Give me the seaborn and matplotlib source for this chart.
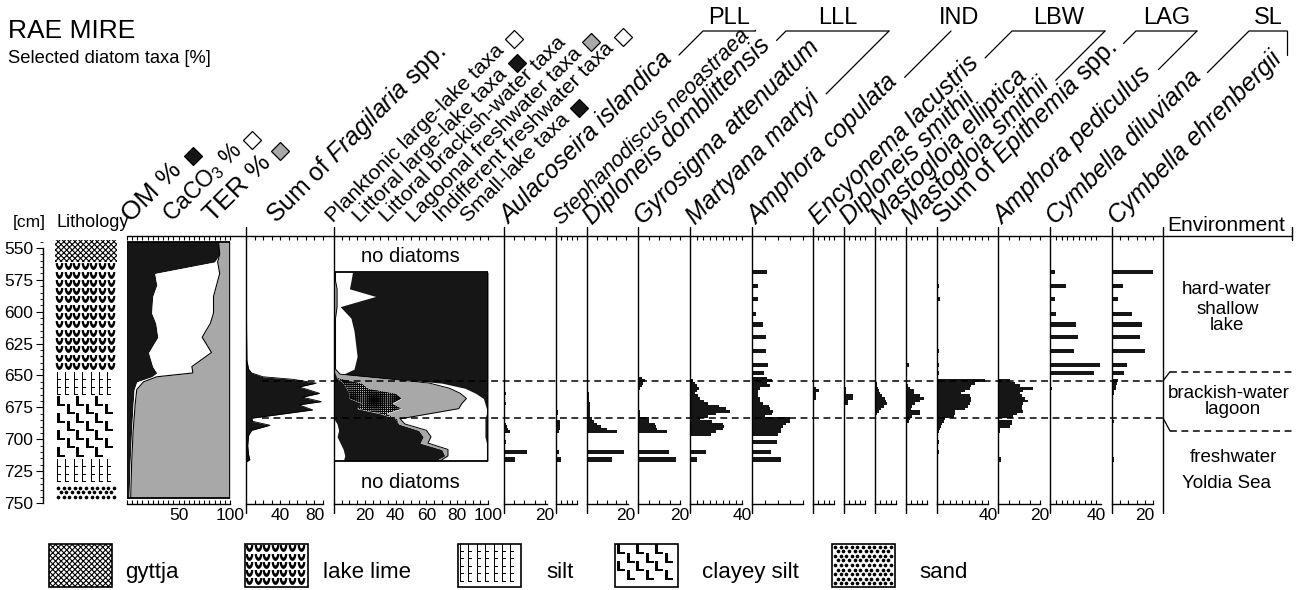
import numpy as np
import matplotlib
matplotlib.use("Agg")
import matplotlib.pyplot as plt
import seaborn as sns
from matplotlib.path import Path
from matplotlib.patches import Rectangle
from matplotlib.ticker import FixedLocator, MultipleLocator

sns.set_theme(style="white")
plt.rcParams["font.family"] = ["Liberation Sans", "DejaVu Sans"]
plt.rcParams["mathtext.fontset"] = "custom"
plt.rcParams["mathtext.rm"] = "Liberation Sans"
plt.rcParams["mathtext.it"] = "Liberation Sans:italic"
plt.rcParams["text.color"] = "black"
plt.rcParams["xtick.color"] = "black"
plt.rcParams["ytick.color"] = "black"
plt.rcParams["axes.edgecolor"] = "black"
plt.rcParams["hatch.linewidth"] = 0.8

BLACK = "#161616"
GREY = "#a8a8a8"

# ----------------------------
# lithology (cm)
# ----------------------------
litho_top = [544, 561, 648, 666, 716, 736]
litho_bottom = [561, 648, 666, 716, 736, 748]
litho_kind = ["gyttja", "lake lime", "silt", "clayey silt", "silt", "sand"]

# ----------------------------
# OM / CaCO3 / TER [%]
# ----------------------------
geo_depth = [545, 555, 561, 570, 579, 588, 601, 609, 620, 632, 643, 648, 651, 655, 661, 672, 693, 719, 746]
om_pct = [88.5, 90, 85, 27, 29, 25, 24, 28, 30, 21, 25, 29, 24, 9.5, 7, 6, 4.5, 3, 2]
caco3_pct = [0.5, 0, 3, 63, 58, 59, 60, 53, 43, 61, 38, 35, 5, 6.5, 2.5, 2, 1.5, 1.5, 1.6]
ter_pct = [100 - a - b for a, b in zip(om_pct, caco3_pct)]

# ----------------------------
# sum of Fragilaria spp. [%]
# ----------------------------
frag_depth = [545, 600, 638, 645, 648, 651, 653, 656, 659, 661, 664, 667, 670.5, 673, 677, 680,
              683.5, 686, 689, 693, 697, 705, 712, 716, 718]
frag_pct = [0, 0.5, 1, 3, 6.5, 20, 55, 82, 62, 72, 86, 66, 88, 62, 78, 45,
            6.5, 8, 28, 6.5, 3, 2, 3, 4.5, 0]

# ----------------------------
# ecological groups [%]
# ----------------------------
eco_depth = [569, 576, 582, 588, 596, 605, 615, 625, 635, 645, 649, 652, 656, 660, 664, 668, 672,
             676, 680, 684, 688, 693, 698, 703, 708, 713, 717]
planktonic_ll = [0, 0, 0, 0, 0, 0, 0, 0, 0, 0, 0, 0, 0, 0, 0, 0, 0, 0, 0, 0, 2, 3, 2, 4, 6, 7, 6]
littoral_ll = [0, 0, 0, 0, 0, 0, 0, 0, 0, 0, 1, 2, 6, 8, 10, 10, 18, 15, 30, 40, 40, 52, 56, 52, 64, 65, 60]
littoral_bw = [0, 0, 0, 0, 0, 0, 0, 0, 0, 0, 0, 1, 12, 14, 30, 34, 20, 29, 4, 1, 0, 0, 0, 0, 0, 0, 0]
lagoonal_fw = [1, 1, 2, 2, 2, 1, 1, 1, 1, 1, 3, 27, 44, 53, 42, 42, 45, 37, 28, 2, 4, 5, 5, 5, 4, 2, 3]
indifferent_fw = [11, 10, 8, 25, 2, 10, 12, 13, 14, 12, 2, 2, 8, 10, 10, 11, 15, 18, 37, 55, 52, 38, 35, 38, 25, 25, 30]
small_lake = [88, 89, 90, 73, 96, 89, 87, 86, 85, 87, 94, 68, 30, 15, 8, 3, 2, 1, 1, 2, 2, 2, 2, 1, 1, 1, 1]

# ----------------------------
# diatom samples (cm) and taxa [%]
# ----------------------------
sample_depth = [569, 580, 590, 602, 610, 620, 631, 642, 648,
                652, 654, 656, 658, 660, 662, 664, 666, 668, 670, 672, 674,
                676, 678, 680, 682, 684, 686, 688, 690, 692, 694, 696, 698,
                702, 710, 716]

aulacoseira_islandica = [0] * 9 + [0, 0, 0, 0, 0, 0, 1, 0, 0, 0, 1, 0, 0, 0, 0, 0, 0, 0, 1, 1.5, 2, 3, 0, 0] + [1, 11, 5.5]
stephanodiscus_neoastraea = [0] * 9 + [0] * 13 + [1, 1, 0, 0, 2, 2, 2, 2, 1.6, 0, 0] + [0.5, 1.3, 2.4]
diploneis_domblittensis = [0] * 9 + [0] * 6 + [0.8, 0.8, 0.8, 1, 1.3, 1.3, 1.3, 1.5, 1.5, 1.5, 2.4, 3.5, 5, 7.3, 10, 15.5, 0, 0] + [0, 19, 12.7]
gyrosigma_attenuatum = [0] * 9 + [2, 3.3, 2.5, 1.7, 1, 0.5] + [0] * 7 + [0.8, 1, 1, 5, 5, 8, 8.5, 9, 14, 0, 0] + [0, 14.8, 18]
martyana_martyi = [0] * 9 + [0, 2.5, 4, 5, 7, 5, 4, 6, 8, 11, 14, 22, 28, 31, 20, 14, 8, 17, 25, 26, 25, 20, 16, 0] + [0, 12, 5]
amphora_copulata = [11.6, 4.6, 4.4, 3.4, 8.5, 10.6, 11, 12.4, 9.8] + \
    [12, 15.5, 12, 14, 6.5, 4.4, 4.4, 5, 6, 6.5, 9, 13, 14, 16.8, 16, 10, 29.7, 30, 27, 24, 23, 23, 20, 0] + [19.4, 15, 22.4]
encyonema_lacustris = [0] * 9 + [0, 0, 0, 0, 1.6, 3, 1.6, 1.3, 1.3] + [0] * 15 + [0, 0, 0]
diploneis_smithii = [0] * 9 + [0, 0, 0, 0, 0.8, 0.8, 1, 4.2, 4.2, 1.8, 1.8, 0, 0, 0, 0.5] + [0] * 9 + [0, 0, 0]
mastogloia_elliptica = [0] * 9 + [0, 0, 0.8, 1, 1.5, 2, 2.5, 3.2, 4.8, 5, 5.6, 4.5, 3, 2, 1, 0, 0, 0.5, 0, 0, 0, 0, 0, 0] + [0, 0, 0]
mastogloia_smithii = [0, 0, 0, 0, 0, 0, 0, 1.6, 0] + \
    [0, 0, 0, 1, 2, 3.7, 4, 6.6, 8.5, 6.6, 4.5, 2.9, 2.5, 6.6, 6.6, 3, 2, 1.3, 0, 0, 0, 0, 0, 0] + [0, 0, 0]
epithemia_sum = [0, 1.3, 2, 0, 0.8, 0, 1.2, 1.2, 1.5] + \
    [0, 38, 30, 27, 26, 22, 18.5, 26, 27, 27, 26, 24, 22, 14.5, 14, 13, 6.5, 5.5, 4, 3, 2.5, 1.5, 0, 0] + [1.8, 1.8, 0]
amphora_pediculus = [0] * 9 + \
    [0, 5.6, 8, 10.4, 16.5, 12, 10.4, 11.2, 13, 14.4, 12, 11.2, 11.5, 11.7, 9, 7.2, 0, 6.9, 6.9, 5.6, 1, 0.8, 0, 0] + [0, 0, 1.6]
cymbella_diluviana = [4.3, 13.9, 4.3, 4.9, 22.3, 23.8, 20.9, 42.9, 37.7] + [0, 0, 0, 0, 1.4] + [0] * 19 + [0, 0, 0]
cymbella_ehrenbergii = [24.7, 6.7, 3.7, 12.4, 18, 17.3, 20.4, 9.4, 7.1] + \
    [0, 3.7, 3, 2.5, 2.2, 1.5, 1.2] + [0] * 10 + [1] + [0] * 6 + [0, 0, 1]

taxa_names = ["Aulacoseira islandica", "Stephanodiscus neoastraea", "Diploneis domblittensis",
              "Gyrosigma attenuatum", "Martyana martyi", "Amphora copulata", "Encyonema lacustris",
              "Diploneis smithii", "Mastogloia elliptica", "Mastogloia smithii",
              r"Sum of $\mathit{Epithemia}$ spp.", "Amphora pediculus", "Cymbella diluviana",
              "Cymbella ehrenbergii"]
taxa_values = [aulacoseira_islandica, stephanodiscus_neoastraea, diploneis_domblittensis,
               gyrosigma_attenuatum, martyana_martyi, amphora_copulata, encyonema_lacustris,
               diploneis_smithii, mastogloia_elliptica, mastogloia_smithii, epithemia_sum,
               amphora_pediculus, cymbella_diluviana, cymbella_ehrenbergii]

zone_depth = [654.3, 683.3]
env_zone_depth = [647, 693.5]

# ----------------------------
# figure / helpers
# ----------------------------
W, H = 1297, 590
fig = plt.figure(figsize=(W / 100, H / 100), dpi=100)
ov = fig.add_axes([0, 0, 1, 1], zorder=10)
ov.set_xlim(0, W)
ov.set_ylim(H, 0)
ov.axis("off")
renderer = fig.canvas.get_renderer()
C45 = np.sqrt(0.5)

TOP, BOT = 236, 504
PX_CM = 1.275
D_TOP = 550 - (248 - TOP) / PX_CM
D_BOT = 550 + (BOT - 248) / PX_CM


def ypx(d):
    return 248 + (d - 550) * PX_CM


def add_panel(left, right, spine=True):
    ax = fig.add_axes([left / W, 1 - BOT / H, (right - left) / W, (BOT - TOP) / H])
    ax.patch.set_visible(False)
    for s in ("top", "right", "left"):
        ax.spines[s].set_visible(False)
    ax.spines["bottom"].set_linewidth(1.0)
    if spine:
        ov.plot([left, left], [227, 513], color="black", lw=1.0)
    return ax


def finish_panel(ax, xmax, labels=(), minor=5):
    ax.set_xlim(0, xmax)
    ax.set_ylim(D_BOT, D_TOP)
    ax.set_xlabel("")
    ax.set_ylabel("")
    ax.set_yticks([])
    ax.xaxis.set_major_locator(FixedLocator(list(labels)))
    ax.xaxis.set_minor_locator(MultipleLocator(minor))
    ax.tick_params(axis="x", which="both", direction="in", top=True, bottom=True,
                   length=3, width=0.8, labelsize=12.5, pad=3)


# lake-lime symbol: thick "U" (half annulus, open at the top), centred
_t = np.linspace(np.pi, 2 * np.pi, 16)
_u = np.vstack([np.c_[np.cos(_t), 1.8 * np.sin(_t)],
                np.c_[0.4 * np.cos(_t[::-1]), 0.9 * np.sin(_t[::-1])]])
_u[:, 1] += 0.9
CUP = Path(np.vstack([_u, _u[:1]]), closed=True)


def draw_litho(ax, kind, d0, d1, wpx):
    ax.add_patch(Rectangle((0, d0), 1, d1 - d0, facecolor="white", lw=0))
    if kind == "gyttja":
        ax.add_patch(Rectangle((0, d0), 1, d1 - d0, facecolor="none", edgecolor="black",
                               lw=0, hatch="xxxxxx"))
        return

    def grid(dx, dy, stagger=False, mx=4, my=4):
        xs = np.arange(mx, wpx - mx + 0.1, dx)
        rows = np.arange(d0 + my / PX_CM, d1 - my / PX_CM + 1e-6, dy / PX_CM)
        pts = []
        for i, r in enumerate(rows):
            off = dx / 2 if (stagger and i % 2) else 0
            for x in xs + off:
                if x <= wpx - mx + 0.1:
                    pts.append((x / wpx, r))
        return np.array(pts).reshape(-1, 2)

    if kind == "lake lime":
        p = grid(8.6, 8.3, my=4.2)
        ax.scatter(p[:, 0], p[:, 1], marker=CUP, s=30, color="black", lw=0)
    elif kind == "silt":
        p = grid(8.4, 7.5, mx=4, my=3.5)
        ax.scatter(p[:, 0], p[:, 1], marker=r"$\mathrm{L}$", s=26, color="black", lw=0)
    elif kind == "clayey silt":
        p = grid(19, 8.5, stagger=True, mx=6, my=5)
        ax.scatter(p[:, 0], p[:, 1], marker=r"$\mathbf{L}$", s=55, color="black", lw=0)
    elif kind == "sand":
        p = grid(5.6, 4.6, stagger=True, mx=3, my=2.5)
        ax.scatter(p[:, 0], p[:, 1], marker="o", s=7, color="black", lw=0)


def header(x, y, s, size=17.8, sym=None, gap=15, **kw):
    ov.text(x, y, s, rotation=45, rotation_mode="anchor", ha="left", va="baseline",
            fontsize=size, **kw)
    probe = ov.text(0, 0, s, fontsize=size, **kw)
    w = probe.get_window_extent(renderer).width
    probe.remove()
    ex, ey = x + w * C45, y - w * C45
    if sym is not None:
        fs = size * 100 / 72
        up = 0.12 * fs
        cx = ex + gap * C45 - up * C45
        cy = ey - gap * C45 - up * C45
        ov.plot(cx, cy, marker="D", ms=9.5, mfc=sym, mec="black", mew=0.9, ls="none", clip_on=False)
    return ex, ey


def bracket(ends, name, vertical_last=False, y=31):
    gap = 8
    pts = [(ex + gap * C45, ey - gap * C45) for ex, ey in ends]
    corners = [px + (py - y) for px, py in pts]
    kw = dict(color="black", lw=0.9, clip_on=False)
    if len(pts) == 1:
        ov.plot([pts[0][0], corners[0]], [pts[0][1], y], **kw)
        cx = corners[0] + 8
    else:
        p0, p1 = pts[0], pts[-1]
        c0, c1 = corners[0], corners[-1]
        if vertical_last:
            c1 = ends[-1][0] + 5
            ov.plot([c1, c1], [y, ends[-1][1] - 5], **kw)
        else:
            ov.plot([c1, p1[0]], [y, p1[1]], **kw)
        ov.plot([p0[0], c0, c1], [p0[1], y, y], **kw)
        cx = (c0 + c1) / 2
    ov.text(cx, 24, name, ha="center", va="baseline", fontsize=17)


# ----------------------------
# depth axis + lithology
# ----------------------------
dax = fig.add_axes([43 / W, 1 - BOT / H, 1 / W, (BOT - TOP) / H])
dax.set_ylim(D_BOT, D_TOP)
dax.patch.set_visible(False)
for s in ("top", "right", "bottom"):
    dax.spines[s].set_visible(False)
dax.spines["left"].set_bounds(550, 750)
dax.spines["left"].set_linewidth(1.0)
dax.set_xticks([])
dax.yaxis.set_major_locator(MultipleLocator(25))
dax.yaxis.set_minor_locator(MultipleLocator(5))
dax.tick_params(axis="y", which="major", left=True, direction="out", length=5, width=0.8, labelsize=12.5, pad=2)
dax.tick_params(axis="y", which="minor", left=True, direction="out", length=2.5, width=0.6)

lax = fig.add_axes([55 / W, 1 - BOT / H, 62 / W, (BOT - TOP) / H])
lax.set_xlim(0, 1)
lax.set_ylim(D_BOT, D_TOP)
lax.axis("off")
for t, b, k in zip(litho_top, litho_bottom, litho_kind):
    draw_litho(lax, k, t, b, 62)

# ----------------------------
# OM / CaCO3 / TER
# ----------------------------
ax = add_panel(127, 230, spine=False)
om = np.array(om_pct)
c2 = om + np.array(caco3_pct)
c3 = c2 + np.array(ter_pct)
ax.fill_betweenx(geo_depth, 0, om, color=BLACK, lw=0)
ax.fill_betweenx(geo_depth, om, c2, color="white", lw=0)
ax.fill_betweenx(geo_depth, c2, c3, color=GREY, lw=0)
sns.lineplot(x=c2, y=geo_depth, orient="y", ax=ax, color="black", lw=0.8)
ax.add_patch(Rectangle((0, geo_depth[0]), 100, geo_depth[-1] - geo_depth[0], fill=False,
                       edgecolor="black", lw=1.3))
finish_panel(ax, 100, [50, 100], 5)

# ----------------------------
# Fragilaria
# ----------------------------
ax = add_panel(246, 323)
ax.fill_betweenx(frag_depth, 0, frag_pct, color=BLACK, lw=0)
sns.lineplot(x=frag_pct, y=frag_depth, orient="y", ax=ax, color="black", lw=0.6)
finish_panel(ax, 90, [40, 80], 10)

# ----------------------------
# ecological groups
# ----------------------------
ax = add_panel(334, 488)
eco_groups = [planktonic_ll, littoral_ll, littoral_bw, lagoonal_fw, indifferent_fw, small_lake]
eco_fill = [("white", None), (BLACK, None), ("white", "+" * 8), (GREY, None), ("white", None), (BLACK, None)]
cum = np.zeros(len(eco_depth))
for vals, (fc, hatch) in zip(eco_groups, eco_fill):
    nxt = cum + np.array(vals, float)
    ax.fill_betweenx(eco_depth, cum, nxt, facecolor=fc, hatch=hatch, edgecolor="black", lw=0)
    if fc == GREY:
        sns.lineplot(x=nxt, y=eco_depth, orient="y", ax=ax, color="black", lw=0.7)
    cum = nxt
ax.add_patch(Rectangle((0, eco_depth[0]), 100, eco_depth[-1] - eco_depth[0], fill=False,
                       edgecolor="black", lw=1.3))
finish_panel(ax, 100, [20, 40, 60, 80, 100], 5)
ov.text(410, 256, "no diatoms", ha="center", va="center", fontsize=14.5)
ov.text(410, 482, "no diatoms", ha="center", va="center", fontsize=14.5)

# ----------------------------
# taxa bars
# ----------------------------
taxa_geom = [(504, 547, 21, [20], 5), (556, 577, 10, [], 2.5), (587, 628, 21, [20], 5),
             (638, 680, 20, [20], 5), (690, 742, 40, [40], 5), (752, 803, 40, [], 10),
             (813, 834, 10, [], 2.5), (844, 865, 10, [], 2.5), (875, 896, 10, [], 2.5),
             (906, 927, 10, [], 2.5), (937, 988, 40, [40], 5), (998, 1040, 20, [20], 5),
             (1050, 1101, 44, [40], 5), (1112, 1153, 25, [20], 5)]
taxa_label_size = [17.8, 15.5, 17.8, 17.8, 17.8, 17.8, 17.8, 17.8, 17.8, 17.8, 17.8, 17.8, 17.8, 17.8]

depth = np.array(sample_depth, float)
gaps = np.diff(depth)
spacing = np.minimum(np.r_[gaps, np.inf], np.r_[np.inf, gaps])
bar_h = np.minimum(3.4, spacing * 1.1)

taxa_ends = []
for name, vals, (l, r, xmax, labs, mn), fsz in zip(taxa_names, taxa_values, taxa_geom, taxa_label_size):
    ax = add_panel(l, r)
    ax.barh(depth, vals, height=bar_h, color=BLACK, lw=0)
    finish_panel(ax, xmax, labs, mn)
    style = {} if "$" in name else {"fontstyle": "italic"}
    taxa_ends.append(header(l + 5, 225, name, fsz, **style))

# ----------------------------
# headers
# ----------------------------
ov.text(8, 38, "RAE MIRE", fontsize=19, va="baseline")
ov.text(8, 63, "Selected diatom taxa [%]", fontsize=13.2, va="baseline")
ov.text(12.5, 227, "[cm]", fontsize=12.5, va="baseline")
ov.text(56.5, 227, "Lithology", fontsize=13, va="baseline")
ov.text(1167, 231, "Environment", fontsize=15, va="baseline")

header(131, 223, "OM %", 19, sym=BLACK, gap=18)
header(172, 223, r"CaCO$_3$ %", 16.5, sym="white", gap=14)
header(213, 223, "TER %", 19, sym=GREY, gap=15)
header(276, 224, r"Sum of $\mathit{Fragilaria}$ spp.", 17.8)

eco_names = ["Planktonic large-lake taxa", "Littoral large-lake taxa", "Littoral brackish-water taxa",
             "Lagoonal freshwater taxa", "Indifferent freshwater taxa", "Small-lake taxa"]
eco_syms = ["white", BLACK, None, GREY, "white", BLACK]
for i, (n, sy) in enumerate(zip(eco_names, eco_syms)):
    header(333 + 27 * i, 223, n, 15.3, sym=sy)

bracket([taxa_ends[0], taxa_ends[1]], "PLL")
bracket([taxa_ends[2], taxa_ends[4]], "LLL")
bracket([taxa_ends[5]], "IND")
bracket([taxa_ends[6], taxa_ends[9]], "LBW")
bracket([taxa_ends[10], taxa_ends[11]], "LAG")
bracket([taxa_ends[12], taxa_ends[13]], "SL", vertical_last=True)

# frame lines
ov.plot([127, 1292], [TOP, TOP], color="black", lw=1.0)
ov.plot([1292, 1292], [227, 240], color="black", lw=1.0)
ov.plot([1163, 1163], [227, 513], color="black", lw=1.0)

# zone lines
for zd, ed in zip(zone_depth, env_zone_depth):
    ov.plot([262, 1163], [ypx(zd), ypx(zd)], color="black", lw=1.1, dashes=(4.5, 3))
    ov.plot([1163, 1170], [ypx(zd), ypx(ed)], color="black", lw=0.9)
    ov.plot([1170, 1292], [ypx(ed), ypx(ed)], color="black", lw=1.1, dashes=(4.5, 3))

env_lines = [("hard-water", 1227, 290), ("shallow", 1228, 309), ("lake", 1227, 326),
             ("brackish-water", 1229, 393), ("lagoon", 1233, 410),
             ("freshwater", 1233, 458), ("Yoldia Sea", 1227, 483)]
for txt, x, y in env_lines:
    ov.text(x, y, txt, ha="center", va="center", fontsize=13.5)

# ----------------------------
# legend
# ----------------------------
legend_kind = ["gyttja", "lake lime", "silt", "clayey silt", "sand"]
legend_box_x = [49, 245, 458, 615, 832]
legend_text_x = [125, 323, 546, 702, 919]
for k, bx, tx in zip(legend_kind, legend_box_x, legend_text_x):
    lg = fig.add_axes([bx / W, 1 - 587 / H, 63 / W, 43 / H])
    hcm = 43 / PX_CM
    lg.set_xlim(0, 1)
    lg.set_ylim(hcm, 0)
    lg.axis("off")
    draw_litho(lg, k, 0, hcm, 63)
    lg.add_patch(Rectangle((0, 0), 1, hcm, fill=False, edgecolor="black", lw=1.2, clip_on=False))
    ov.text(tx, 578, k, fontsize=16, va="baseline", family=["Liberation Sans Narrow", "Liberation Sans"])

fig.savefig("out.png", dpi=100)
